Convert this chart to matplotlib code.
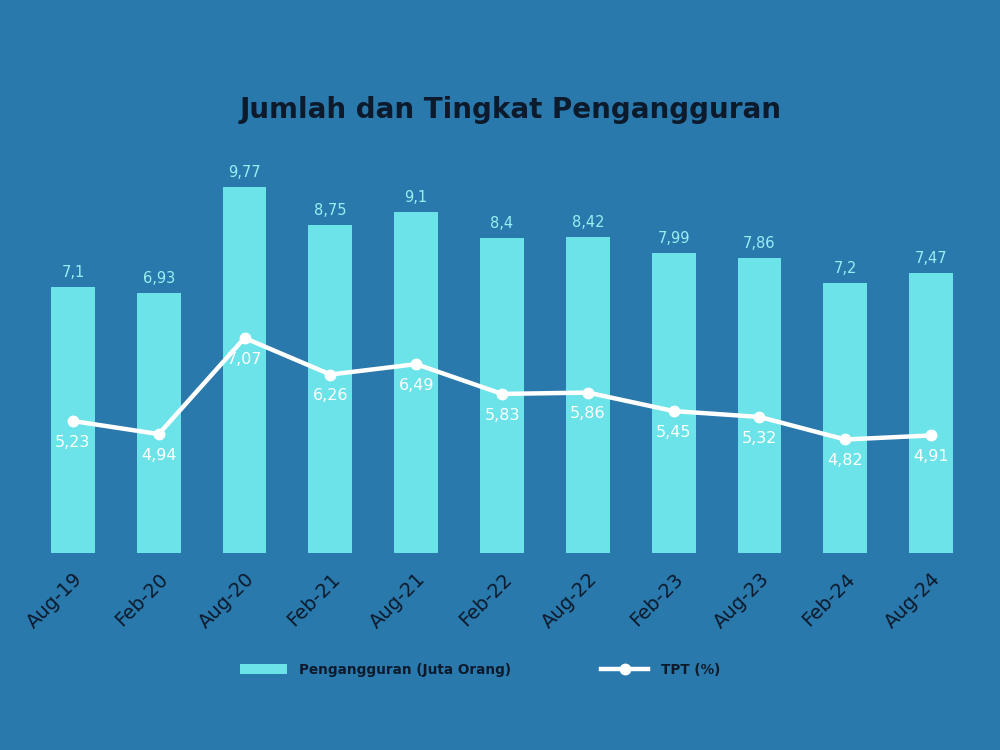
import numpy as np
import matplotlib.pyplot as plt
from matplotlib.ticker import NullLocator

periods = ['Aug-19', 'Feb-20', 'Aug-20', 'Feb-21', 'Aug-21', 'Feb-22',
           'Aug-22', 'Feb-23', 'Aug-23', 'Feb-24', 'Aug-24']
pengangguran = [7.1, 6.93, 9.77, 8.75, 9.1, 8.4, 8.42, 7.99, 7.86, 7.2, 7.47]
tpt = [5.23, 4.94, 7.07, 6.26, 6.49, 5.83, 5.86, 5.45, 5.32, 4.82, 4.91]

bg = '#2a79ad'
bar_color = '#6ce3e8'
dark = '#0c1a2b'


def fmt(v):
    return ('%g' % v).replace('.', ',')


fig = plt.figure(figsize=(10, 7.5), dpi=100, facecolor=bg)
ax = fig.add_axes([0.03, 0.263, 0.944, 0.524])
ax.set_facecolor(bg)
x = np.arange(len(periods))

bars = ax.bar(x, pengangguran, width=0.51, color=bar_color, label='Pengangguran (Juta Orang)')
for xi, v in zip(x, pengangguran):
    ax.annotate(fmt(v), (xi, v), xytext=(0, 5), textcoords='offset points',
                ha='center', va='bottom', color='#9aeef2', fontsize=10.5)

ax.set_xlim(-0.5, len(periods) - 0.5)
ax.set_ylim(0, 10.49)
ax.set_xticks(x)
ax.set_xticklabels(periods, rotation=45, ha='right', rotation_mode='anchor',
                   fontsize=14, color=dark)
ax.tick_params(axis='x', length=0, pad=12)
ax.yaxis.set_major_locator(NullLocator())
for s in ax.spines.values():
    s.set_visible(False)

ax2 = ax.twinx()
ax2.set_ylim(2.31, 11.02)
line, = ax2.plot(x, tpt, color='white', lw=3.2, marker='o', ms=7.5, label='TPT (%)')
for xi, v in zip(x, tpt):
    ax2.annotate(fmt(v), (xi, v), xytext=(0, -10), textcoords='offset points',
                 ha='center', va='top', color='white', fontsize=11.5)
ax2.yaxis.set_major_locator(NullLocator())
for s in ax2.spines.values():
    s.set_visible(False)

fig.text(0.51, 0.853, 'Jumlah dan Tingkat Pengangguran', ha='center', va='center',
         fontsize=20, fontweight='bold', color=dark)

leg = fig.legend([bars, line], ['Pengangguran (Juta Orang)', 'TPT (%)'],
                 loc='center', bbox_to_anchor=(0.48, 0.107), ncol=2, frameon=False,
                 columnspacing=6.6, handlelength=3.45, handletextpad=0.95,
                 prop={'weight': 'bold', 'size': 9.8})
for t in leg.get_texts():
    t.set_color(dark)

fig.savefig('out.png', dpi=100, facecolor=bg)
